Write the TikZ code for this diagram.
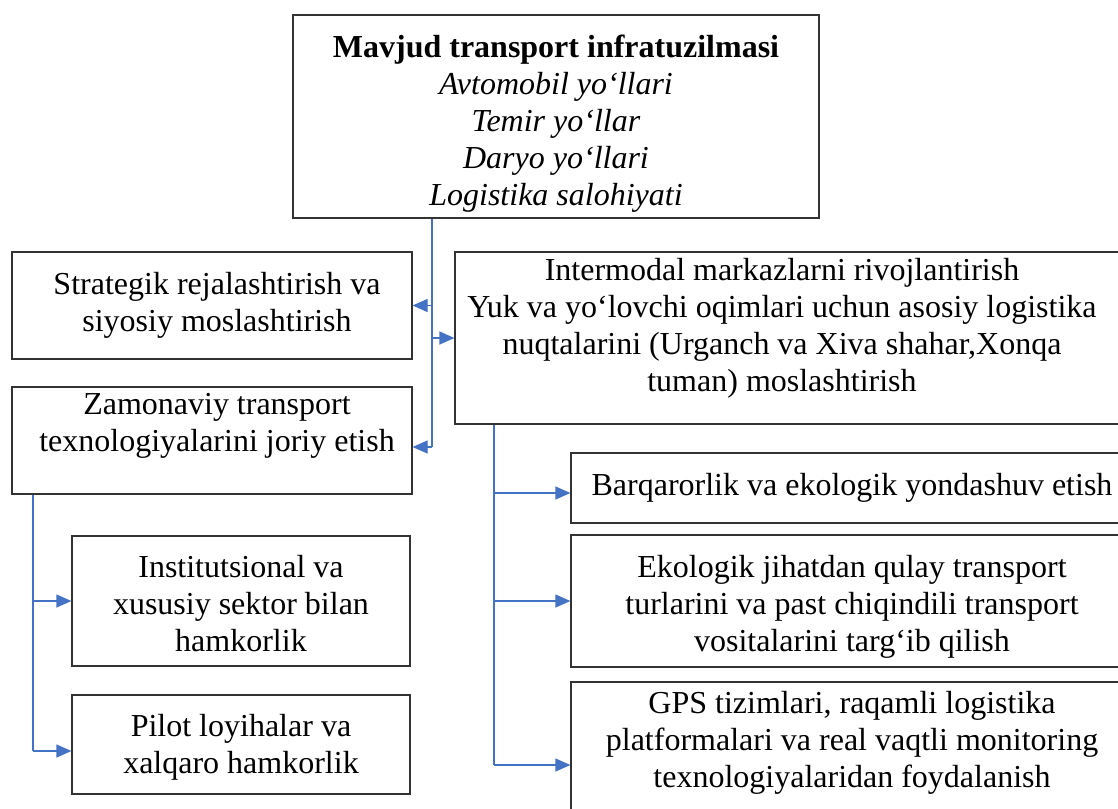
\documentclass[tikz,border=0pt]{standalone}
\usepackage{fontspec}
\setmainfont{Liberation Serif}
\usetikzlibrary{arrows.meta,calc}
\definecolor{linkblue}{HTML}{4472C4}
\tikzset{
  box/.style={draw=black!80, line width=1.2pt, rectangle, inner sep=0pt},
  boxtext/.style={font=\fontsize{32}{37}\selectfont, align=center, inner sep=0pt},
  link/.style={draw=linkblue, line width=1.2pt},
  linkarrow/.style={link, -{Triangle[length=15pt,width=13pt]}},
}
\begin{document}
\begin{tikzpicture}[x=1pt,y=-1pt]
\useasboundingbox (0,0) rectangle (1118,808);
\fill[white] (0,0) rectangle (1118,808);
\clip (0,0) rectangle (1118,808);

% frames
\node[box, minimum width=526pt, minimum height=203pt] (top) at (556,116.5) {};
\node[box, minimum width=400pt, minimum height=107pt] (str) at (212,305.5) {};
\node[box, minimum width=400pt, minimum height=107pt] (zam) at (212,440.5) {};
\node[box, minimum width=680pt, minimum height=172pt] (int) at (795,338) {};
\node[box, minimum width=338pt, minimum height=130pt] (ins) at (241,601) {};
\node[box, minimum width=338pt, minimum height=99pt]  (pil) at (241,744.5) {};
\node[box, minimum width=564pt, minimum height=70pt]  (bar) at (853,488) {};
\node[box, minimum width=564pt, minimum height=132pt] (eko) at (853,601) {};
\node[box, minimum width=564pt, minimum height=133pt] (gps) at (853,748.5) {};

% texts
\node[boxtext] (topT) at (556,124) {\textbf{Mavjud transport infratuzilmasi}\\
  \textit{Avtomobil yo‘llari}\\
  \textit{Temir yo‘llar}\\
  \textit{Daryo yo‘llari}\\
  \textit{Logistika salohiyati}};
\node[boxtext] (strT) at (217,305) {Strategik rejalashtirish va\\siyosiy moslashtirish};
\node[boxtext] (zamT) at (217,426) {Zamonaviy transport\\texnologiyalarini joriy etish};
\node[boxtext] (intT) at (782,328) {Intermodal markazlarni rivojlantirish\\
  Yuk va yo‘lovchi oqimlari uchun asosiy logistika\\
  nuqtalarini (Urganch va Xiva shahar,Xonqa\\
  tuman) moslashtirish};
\node[boxtext] (insT) at (241,604) {Institutsional va\\xususiy sektor bilan\\hamkorlik};
\node[boxtext] (pilT) at (241,747) {Pilot loyihalar va\\xalqaro hamkorlik};
\node[boxtext] (barT) at (852,488) {Barqarorlik va ekologik yondashuv etish};
\node[boxtext] (ekoT) at (852,607) {Ekologik jihatdan qulay transport\\
  turlarini va past chiqindili transport\\vositalarini targ‘ib qilish};
\node[boxtext] (gpsT) at (852,743) {GPS tizimlari, raqamli logistika\\
  platformalari va real vaqtli monitoring\\texnologiyalaridan foydalanish};

% connectors from the infrastructure box
\coordinate (j1) at (432,447);
\draw[link] (top.south -| j1) -- (j1);
\draw[linkarrow] (j1 |- str.east) -- (str.east);
\draw[linkarrow] (j1 |- int.west) -- (int.west);
\draw[linkarrow] (j1) -- (j1 -| zam.east);

% connectors from the technologies box
\coordinate (j2) at (33,751);
\draw[link] (zam.south -| j2) -- (j2);
\draw[linkarrow] (j2 |- ins.west) -- (ins.west);
\draw[linkarrow] (j2) -- (j2 -| pil.west);

% connectors from the intermodal box
\coordinate (j3) at (494,765);
\draw[link] (int.south -| j3) -- (j3);
\draw[linkarrow] ($(j3 |- bar.west)+(0,5)$) -- ($(bar.west)+(0,5)$);
\draw[linkarrow] (j3 |- eko.west) -- (eko.west);
\draw[linkarrow] (j3) -- (j3 -| gps.west);
\end{tikzpicture}
\end{document}
